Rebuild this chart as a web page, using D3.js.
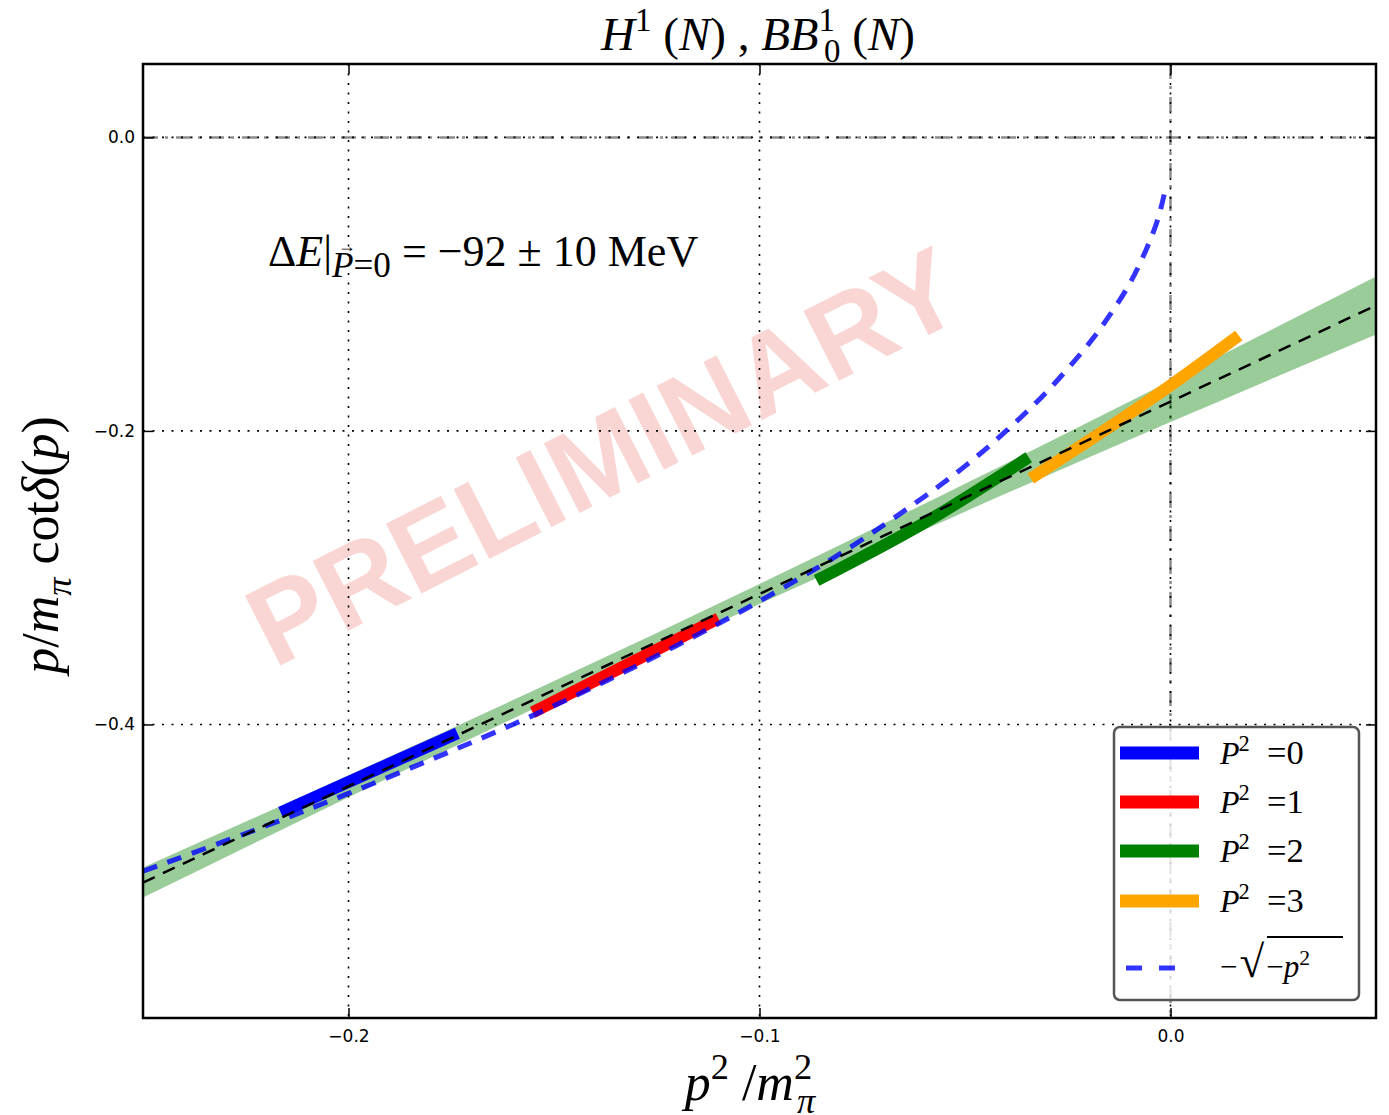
<!DOCTYPE html>
<html>
<head>
<meta charset="utf-8">
<script src="https://cdn.jsdelivr.net/npm/d3@7"></script>
<style>
  body { margin: 0; background: #fff; }
  svg { display: block; }
</style>
</head>
<body>
<div id="chart"></div>
<script>
// ---- data ----
var xTicks = [-0.2, -0.1, 0.0];
var yTicks = [0.0, -0.2, -0.4];

// linear fit with its error band
var fitX  = [-0.25, -0.2, -0.15, -0.1, -0.05, 0.0, 0.05];
var fitY  = [-0.5077, -0.4421, -0.3766, -0.3111, -0.2455, -0.1800, -0.1145];
var fitLo = [-0.5179, -0.4496, -0.3828, -0.3179, -0.2550, -0.1940, -0.1343];
var fitHi = [-0.4975, -0.4346, -0.3704, -0.3043, -0.2360, -0.1660, -0.0947];

// data segments, one per P^2
var frameLabels = ["0", "1", "2", "3"];
var frameColors = ["blue", "red", "green", "orange"];
var segX = [
  [-0.2165, -0.1735],
  [-0.1552, -0.1100],
  [-0.0861, -0.0601, -0.0345],
  [-0.0340, 0.0000, 0.0166]
];
var segY = [
  [-0.4599, -0.4060],
  [-0.3918, -0.3278],
  [-0.3019, -0.2630, -0.2180],
  [-0.2324, -0.1690, -0.1350]
];

// bound state curve -sqrt(-p^2)
var sqrtX = [-0.25, -0.22, -0.2, -0.18, -0.16, -0.14, -0.12, -0.1, -0.08, -0.06, -0.05, -0.04, -0.03, -0.02, -0.015, -0.01, -0.006, -0.003, -0.001];
var sqrtY = [-0.5, -0.469, -0.447, -0.424, -0.4, -0.374, -0.346, -0.316, -0.283, -0.245, -0.224, -0.2, -0.173, -0.141, -0.122, -0.1, -0.077, -0.055, -0.032];

// ---- layout ----
var W = 1389, H = 1115;
var L = 143, R = 1376, T = 64, B = 1018;
var serif = "'Liberation Serif', 'DejaVu Serif', serif";

var svg = d3.select("#chart").append("svg")
  .attr("width", W)
  .attr("height", H);

var x = d3.scaleLinear().domain([-0.25, 0.05]).range([L, R]);
var y = d3.scaleLinear().domain([-0.6, 0.05]).range([B, T]);

svg.append("clipPath").attr("id", "clip")
  .append("rect").attr("x", L).attr("y", T).attr("width", R - L).attr("height", B - T);

// watermark
svg.append("text")
  .attr("transform", "translate(603,455) rotate(-27)")
  .attr("text-anchor", "middle")
  .attr("dy", "0.36em")
  .style("font-family", "'Liberation Sans', Arial, sans-serif")
  .style("font-weight", "bold")
  .style("font-size", "114px")
  .style("fill", "#e0302a")
  .style("fill-opacity", 0.2)
  .text("PRELIMINARY");

// grid
var grid = svg.append("g").attr("clip-path", "url(#clip)");
grid.selectAll(".gx").data(xTicks).enter().append("line")
  .attr("x1", function(d) { return x(d); }).attr("x2", function(d) { return x(d); })
  .attr("y1", T).attr("y2", B)
  .attr("stroke", "#000").attr("stroke-width", 1.6).attr("stroke-dasharray", "2,7.5");
grid.selectAll(".gy").data(yTicks).enter().append("line")
  .attr("y1", function(d) { return y(d); }).attr("y2", function(d) { return y(d); })
  .attr("x1", L).attr("x2", R)
  .attr("stroke", "#000").attr("stroke-width", 1.6).attr("stroke-dasharray", "2,7.5");

// zero lines, dash-dot
grid.append("line")
  .attr("x1", x(0)).attr("x2", x(0)).attr("y1", T).attr("y2", B)
  .attr("stroke", "#000").attr("stroke-opacity", 0.45).attr("stroke-width", 2.5)
  .attr("stroke-dasharray", "15,7,3,8");
grid.append("line")
  .attr("y1", y(0)).attr("y2", y(0)).attr("x1", L).attr("x2", R)
  .attr("stroke", "#000").attr("stroke-opacity", 0.45).attr("stroke-width", 2.5)
  .attr("stroke-dasharray", "15,7,3,8");

var plot = svg.append("g").attr("clip-path", "url(#clip)");

// error band
var bandData = fitX.map(function(d, i) { return [d, fitLo[i], fitHi[i]]; });
plot.append("path")
  .datum(bandData)
  .attr("fill", "green")
  .attr("fill-opacity", 0.4)
  .attr("d", d3.area()
    .curve(d3.curveMonotoneX)
    .x(function(d) { return x(d[0]); })
    .y0(function(d) { return y(d[1]); })
    .y1(function(d) { return y(d[2]); }));

// segments
var segLine = d3.line()
  .curve(d3.curveMonotoneX)
  .x(function(d) { return x(d[0]); })
  .y(function(d) { return y(d[1]); });

segX.forEach(function(xs, k) {
  var pts = xs.map(function(d, i) { return [d, segY[k][i]]; });
  plot.append("path")
    .datum(pts)
    .attr("fill", "none")
    .attr("stroke", frameColors[k])
    .attr("stroke-width", 12)
    .attr("d", segLine);
});

// -sqrt(-p^2)
var sqrtData = sqrtX.map(function(d, i) { return [d, sqrtY[i]]; });
plot.append("path")
  .datum(sqrtData)
  .attr("fill", "none")
  .attr("stroke", "blue")
  .attr("stroke-opacity", 0.8)
  .attr("stroke-width", 5)
  .attr("stroke-dasharray", "15,11")
  .attr("d", d3.line().curve(d3.curveCatmullRom)
    .x(function(d) { return x(d[0]); })
    .y(function(d) { return y(d[1]); }));

// fit line
var fitData = fitX.map(function(d, i) { return [d, fitY[i]]; });
plot.append("path")
  .datum(fitData)
  .attr("fill", "none")
  .attr("stroke", "#000")
  .attr("stroke-width", 2.5)
  .attr("stroke-dasharray", "13,9")
  .attr("d", segLine);

// axes, ticks inside on all four sides
function styleAxis(g) {
  g.select(".domain").remove();
  g.selectAll(".tick line").attr("stroke", "#000").attr("stroke-width", 1.5);
  g.selectAll(".tick text")
    .style("font-family", "'DejaVu Sans', sans-serif")
    .style("font-size", "17px")
    .attr("fill", "#000");
}
var fmt = d3.format(".1f");
svg.append("g").attr("transform", "translate(0," + B + ")")
  .call(d3.axisBottom(x).tickValues(xTicks).tickFormat(fmt).tickSize(-10).tickPadding(12))
  .call(styleAxis);
svg.append("g").attr("transform", "translate(0," + T + ")")
  .call(d3.axisTop(x).tickValues(xTicks).tickFormat("").tickSize(-10))
  .call(styleAxis);
svg.append("g").attr("transform", "translate(" + L + ",0)")
  .call(d3.axisLeft(y).tickValues(yTicks).tickFormat(fmt).tickSize(-10).tickPadding(8))
  .call(styleAxis);
svg.append("g").attr("transform", "translate(" + R + ",0)")
  .call(d3.axisRight(y).tickValues(yTicks).tickFormat("").tickSize(-10))
  .call(styleAxis);

svg.append("rect")
  .attr("x", L).attr("y", T).attr("width", R - L).attr("height", B - T)
  .attr("fill", "none").attr("stroke", "#000").attr("stroke-width", 2.5);

// math-ish text helper: parts = [text, italic, shift, dx, scale]
function mathText(sel, parts, fs) {
  var cur = 0;
  parts.forEach(function(p) {
    var shift = p[2] === "sup" ? -0.4 * fs : (p[2] === "sub" ? 0.25 * fs : 0);
    var size = p[4] ? fs * p[4] : (p[2] ? fs * 0.7 : fs);
    var ts = sel.append("tspan")
      .attr("dy", shift - cur)
      .style("font-style", p[1] ? "italic" : "normal")
      .style("font-size", size + "px")
      .text(p[0]);
    if (p[3]) ts.attr("dx", p[3]);
    cur = shift;
  });
}

// title
var title = svg.append("text")
  .attr("x", 758).attr("y", 50)
  .attr("text-anchor", "middle")
  .style("font-family", serif);
mathText(title, [
  ["H", 1], ["1", 0, "sup"], [" (", 0], ["N", 1], [") , ", 0],
  ["BB", 1], ["1", 0, "sup"], ["0", 0, "sub", -11], ["  (", 0], ["N", 1], [")", 0]
], 47);

// y label
var ylab = svg.append("text")
  .attr("transform", "translate(58,545) rotate(-90)")
  .attr("text-anchor", "middle")
  .style("font-family", serif);
mathText(ylab, [
  ["p", 1], ["/", 0], ["m", 1], ["\u03c0", 1, "sub"], ["   cot", 0], ["\u03b4", 1], ["(", 0], ["p", 1], [")", 0]
], 52);

// x label
var xlab = svg.append("text")
  .attr("x", 750).attr("y", 1100)
  .attr("text-anchor", "middle")
  .style("font-family", serif);
mathText(xlab, [
  ["p", 1], ["2", 0, "sup"], ["  /", 0], ["m", 1], ["2", 0, "sup"], ["\u03c0", 1, "sub", -15]
], 52);

// annotation
var ann = svg.append("text")
  .attr("x", 268).attr("y", 266)
  .style("font-family", serif);
mathText(ann, [
  ["\u0394", 0], ["E", 1], ["|", 0], ["P", 1, "sub", 0, 0.8], ["=0", 0, "sub", 0, 0.8], ["  =  \u221292 \u00b1 10 MeV", 0]
], 44);
// small vector arrow above the subscript P (char index 3)
var an = ann.node();
var p0 = an.getStartPositionOfChar(3), p1 = an.getEndPositionOfChar(3);
svg.append("text")
  .attr("x", (p0.x + p1.x) / 2 + 4).attr("y", p0.y - 25)
  .attr("text-anchor", "middle")
  .style("font-family", serif)
  .style("font-size", "18px")
  .text("\u2192");

// legend
var leg = svg.append("g");
leg.append("rect")
  .attr("x", 1114).attr("y", 727).attr("width", 245).attr("height", 273)
  .attr("rx", 6)
  .attr("fill", "#fff").attr("fill-opacity", 0.8)
  .attr("stroke", "#555").attr("stroke-width", 2.5);

var legY = [753, 802, 851, 901];
frameLabels.forEach(function(lab, k) {
  leg.append("line")
    .attr("x1", 1120).attr("x2", 1199)
    .attr("y1", legY[k]).attr("y2", legY[k])
    .attr("stroke", frameColors[k]).attr("stroke-width", 13);
  var t = leg.append("text")
    .attr("x", 1220).attr("y", legY[k] + 11)
    .style("font-family", serif)
    .style("white-space", "pre");
  mathText(t, [["P", 1], ["2", 0, "sup", -1], ["  =" + lab, 0, null, 0, 1.08]], 32);
});

leg.append("line")
  .attr("x1", 1126).attr("x2", 1178)
  .attr("y1", 968).attr("y2", 968)
  .attr("stroke", "blue").attr("stroke-opacity", 0.8)
  .attr("stroke-width", 5).attr("stroke-dasharray", "16,17");
var st = leg.append("text")
  .attr("x", 1220).attr("y", 977)
  .style("font-family", serif);
mathText(st, [["\u2212", 0], ["\u221a", 0, null, 2, 1.45], ["\u2212", 0, null, 2], ["p", 1], ["2", 0, "sup"]], 31);
leg.append("line")
  .attr("x1", 1267).attr("x2", 1343)
  .attr("y1", 937).attr("y2", 937)
  .attr("stroke", "#000").attr("stroke-width", 2.2);
</script>
</body>
</html>
